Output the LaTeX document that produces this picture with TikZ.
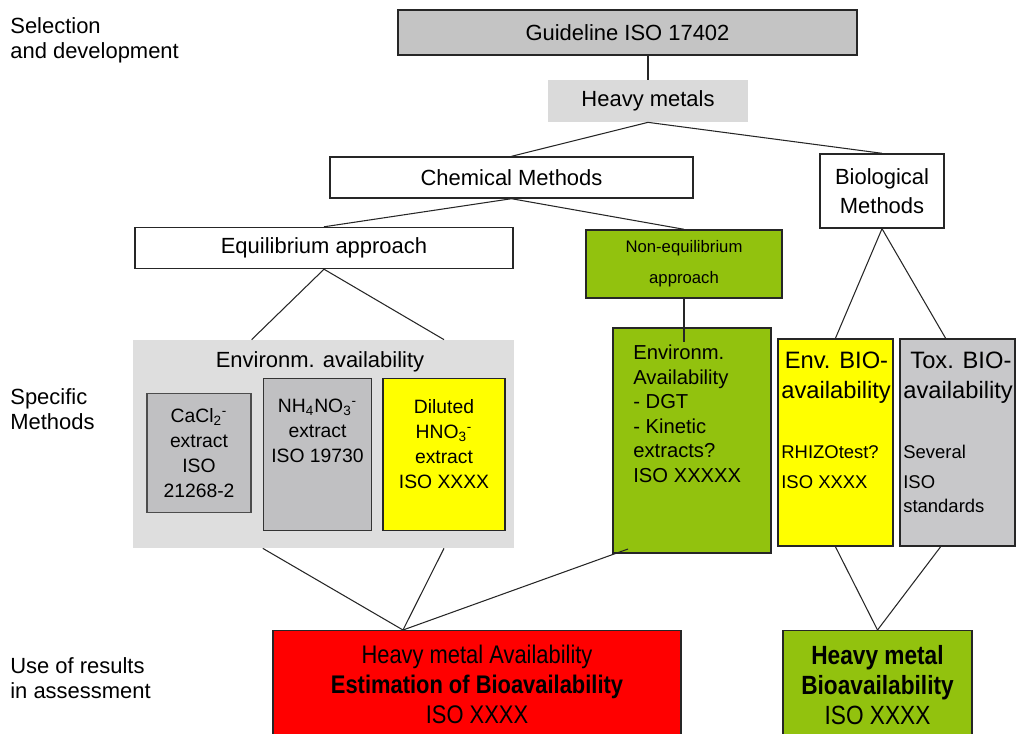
\documentclass[tikz,border=0pt]{standalone}
\usepackage{fontspec}
\setmainfont{Liberation Sans}
\newfontfamily\narrowfont[FakeStretch=0.86]{Liberation Sans}
\usetikzlibrary{positioning}
\definecolor{leafgreen}{RGB}{146,194,14}
\definecolor{guidegray}{RGB}{196,196,196}
\definecolor{metalgray}{RGB}{218,218,218}
\definecolor{panelgray}{RGB}{222,222,222}
\definecolor{extractgray}{RGB}{192,192,194}
\definecolor{toxgray}{RGB}{200,200,202}
\definecolor{strongyellow}{RGB}{255,255,0}
\definecolor{strongred}{RGB}{255,0,0}
\tikzset{
  sized box/.style 2 args={
    minimum width={#1*0.02cm},
    minimum height={#2*0.02cm},
    inner sep=0pt,
    align=center,
  },
  frame/.style={
    draw=black!85,
    line width=0.8pt,
  },
  big text/.style={
    font=\fontsize{12.5}{14.5}\selectfont,
  },
  mid text/.style={
    align=center,
    font=\fontsize{11}{14.2}\selectfont,
  },
  side label/.style={
    anchor=north west,
    align=left,
    inner sep=0pt,
    font=\fontsize{12.5}{14.2}\selectfont,
  },
  link/.style={
    draw=black!85,
    line width=0.6pt,
  }
}

\begin{document}
\begin{tikzpicture}[x=0.02cm, y=-0.02cm]
        \useasboundingbox (0,0) rectangle (1016,733);
        \clip (0,0) rectangle (1016,733);

        % row labels
        \node [side label] (sel) at (10,17) {Selection\\and development};
        \node [side label] (spec) at (10,388) {Specific\\Methods};
        \node [side label] (use) at (10,657) {Use of results\\in assessment};

        % upper tree
        \node [sized box={459}{45}, frame, fill=guidegray, big text] (guide) at (627.5,32.5) {Guideline ISO 17402};
        \node [sized box={200}{42}, fill=metalgray, big text] (hm) at (648,101) {Heavy metals};
        \node [sized box={363}{41}, frame, fill=white, big text] (chem) at (511.5,177.5) {Chemical Methods};
        \node [sized box={124}{74}, frame, fill=white, big text, font=\fontsize{12.5}{16.5}\selectfont] (bio) at (882,191) {Biological\\Methods};
        \node [sized box={378}{41}, frame, fill=white, big text] (equil) at (324,248) {Equilibrium approach};
        \node [sized box={196}{68}, frame, fill=leafgreen, font=\fontsize{9.5}{17.5}\selectfont] (noneq) at (684,264) {Non-equilibrium\\approach};

        % equilibrium extracts
        \node [sized box={381}{208}, fill=panelgray] (envpanel) at (323.5,444) {};
        \node [big text] (envtitle) at (320,362) {Environm. availability};
        \node [sized box={104}{119}, draw=black!70, line width=0.7pt, fill=extractgray, mid text] (cacl) at (199,453) {CaCl\textsubscript{2}\textsuperscript{-}\\extract\\ISO\\21268-2};
        \node [sized box={108}{152}, draw=black!80, line width=0.8pt, fill=extractgray, anchor=north] (nh) at (317.5,378) {};
        \node [mid text, anchor=north] (nhtext) at ([yshift=-6pt]nh.north) {\strut NH\textsubscript{4}NO\textsubscript{3}\textsuperscript{-}\\extract\\ISO 19730};
        \node [sized box={122}{152}, frame, fill=strongyellow, anchor=north] (hno) at (444,378) {};
        \node [mid text, anchor=north] (hnotext) at ([yshift=-7pt]hno.north) {\strut Diluted\\HNO\textsubscript{3}\textsuperscript{-}\\extract\\ISO XXXX};

        % non-equilibrium and biological boxes
        \node [sized box={158}{225}, draw=black!85, line width=1.3pt, fill=leafgreen] (dgt) at (692,440.5) {};
        \node [anchor=north west, align=left, inner sep=0pt, font=\fontsize{11.5}{13.9}\selectfont] (dgttext) at (633,345) {Environm.\\Availability\\- DGT\\- Kinetic\\extracts?\\ISO XXXXX};
        \node [sized box={115}{207}, draw=black!85, line width=1pt, fill=strongyellow] (envbio) at (835.5,442.5) {};
        \node [anchor=north west, align=left, inner sep=0pt, font=\fontsize{13.5}{17}\selectfont] (envbiotext) at (781,352) {\hspace*{2pt}Env. BIO-\\availability\\[17pt]{\fontsize{10.5}{17}\selectfont RHIZOtest?}\\{\fontsize{10.5}{13}\selectfont ISO XXXX}};
        \node [sized box={115}{207}, draw=black!85, line width=1pt, fill=toxgray] (toxbio) at (957.5,442.5) {};
        \node [anchor=north west, align=left, inner sep=0pt, font=\fontsize{13.5}{17}\selectfont] (toxbiotext) at (903,352) {\hspace*{4pt}Tox. BIO-\\availability\\[17pt]{\fontsize{10.5}{17}\selectfont Several}\\{\fontsize{10.5}{14}\selectfont ISO}\\[-3pt]{\fontsize{10.5}{14}\selectfont standards}};

        % assessment boxes
        \node [sized box={408}{120}, frame, fill=strongred, anchor=north] (hmavail) at (477,630) {};
        \node [anchor=north, align=center, inner sep=0pt, font=\narrowfont\fontsize{14.5}{17}\selectfont] (hmavailtext) at (477,645) {Heavy metal Availability\\\textbf{Estimation of Bioavailability}\\ISO XXXX};
        \node [sized box={189}{120}, frame, fill=leafgreen, anchor=north] (hmbio) at (877.5,630) {};
        \node [anchor=north, align=center, inner sep=0pt, font=\narrowfont\fontsize{15}{17}\selectfont] (hmbiotext) at (877.5,645) {\textbf{Heavy metal}\\\textbf{Bioavailability}\\ISO XXXX};

        % connectors
        \coordinate (redtop) at (403,630);
        \coordinate (dgtfoot) at (628,549);
        \draw [link] (hm.north) -- (hm.north |- guide.south);
        \draw [link] (hm.south) -- (chem.north);
        \draw [link] (hm.south) -- (bio.north);
        \draw [link] (chem.south) -- (equil.north);
        \draw [link] (chem.south) -- (noneq.north);
        \draw [link] (equil.south) -- (envpanel.north -| cacl.east);
        \draw [link] (equil.south) -- (envpanel.north -| hno.center);
        \draw [link] (noneq.south) -- ([yshift=-0.3cm]noneq.south |- dgt.north);
        \draw [link] (bio.south) -- (envbio.north);
        \draw [link] (bio.south) -- ([xshift=-0.24cm]toxbio.north);
        \draw [link] (envpanel.south -| nh.west) -- (redtop);
        \draw [link] (envpanel.south -| hno.center) -- (redtop);
        \draw [link] (dgtfoot) -- (redtop);
        \draw [link] (envbio.south) -- (hmbio.north);
        \draw [link] ([xshift=-0.34cm]toxbio.south) -- (hmbio.north);
    \end{tikzpicture}
\end{document}
